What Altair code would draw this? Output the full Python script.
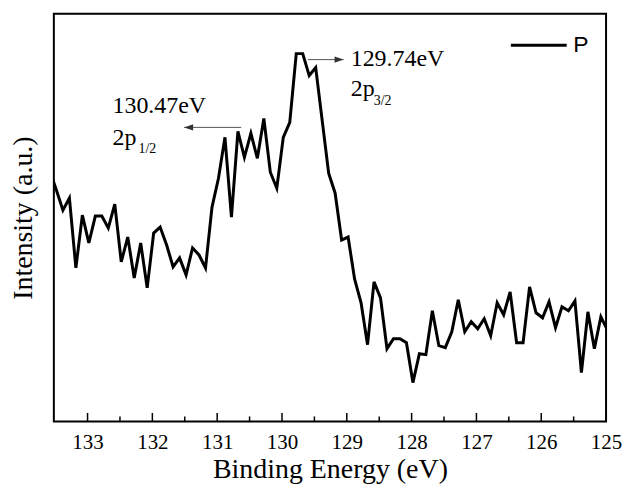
import altair as alt
import pandas as pd

# Binding energy grid (eV) and intensity (a.u.)
energy = [133.58, 133.48, 133.38, 133.28, 133.18, 133.08, 132.98, 132.88, 132.78, 132.68,
          132.58, 132.48, 132.38, 132.28, 132.18, 132.08, 131.98, 131.88, 131.78, 131.68,
          131.58, 131.48, 131.38, 131.28, 131.18, 131.08, 130.98, 130.88, 130.78, 130.68,
          130.58, 130.48, 130.38, 130.28, 130.18, 130.08, 129.98, 129.88, 129.78, 129.68,
          129.58, 129.48, 129.38, 129.28, 129.18, 129.08, 128.98, 128.88, 128.78, 128.68,
          128.58, 128.48, 128.38, 128.28, 128.18, 128.08, 127.98, 127.88, 127.78, 127.68,
          127.58, 127.48, 127.38, 127.28, 127.18, 127.08, 126.98, 126.88, 126.78, 126.68,
          126.58, 126.48, 126.38, 126.28, 126.18, 126.08, 125.98, 125.88, 125.78, 125.68,
          125.58, 125.48, 125.38, 125.28, 125.18, 125.08, 124.98]
intensity = [251, 232, 212, 224, 154, 207, 179, 206, 206, 194,
             218, 160, 185, 144, 179, 134, 189, 195, 177, 155,
             164, 147, 174, 167, 154, 215, 244, 285, 205, 291,
             265, 289, 264, 304, 250, 234, 285, 300, 369, 369,
             347, 355, 302, 249, 229, 182, 185, 143, 119, 77,
             140, 124, 73, 83, 83, 79, 39, 68, 67, 111,
             76, 74, 90, 122, 90, 100, 93, 103, 86, 119,
             107, 130, 79, 79, 135, 109, 104, 120, 94, 115,
             111, 121, 49, 110, 73, 105, 92]
series = ["P"] * len(energy)

major_ticks = [133, 132, 131, 130, 129, 128, 127, 126, 125]
minor_ticks = [132.5, 131.5, 130.5, 129.5, 128.5, 127.5, 126.5, 125.5]

X_DOMAIN = [133.52, 125]
Y_DOMAIN = [0, 409]
W, H = 554, 409
SERIF = "Liberation Serif"

df = pd.DataFrame({"E": energy, "I": intensity, "series": series})
xs = alt.Scale(domain=X_DOMAIN, nice=False, zero=False)
ys = alt.Scale(domain=Y_DOMAIN, nice=False, zero=False)

line = alt.Chart(df).mark_line(strokeWidth=3, clip=True, strokeJoin="miter").encode(
    x=alt.X("E:Q", scale=xs,
            axis=alt.Axis(title="Binding Energy (eV)", values=major_ticks, format="d",
                          ticks=False, tickSize=0, domain=False, grid=False,
                          labelFont=SERIF, labelFontSize=21, labelColor="black",
                          labelPadding=10, labelFlush=False,
                          titleFont=SERIF, titleFontSize=28, titleFontWeight="normal",
                          titleColor="black", titleBaseline="alphabetic", titleY=56)),
    y=alt.Y("I:Q", scale=ys,
            axis=alt.Axis(title="Intensity (a.u.)", labels=False, ticks=False,
                          domain=False, grid=False,
                          titleFont=SERIF, titleFontSize=28, titleFontWeight="normal",
                          titleColor="black", titleBaseline="alphabetic", titleX=-22)),
    color=alt.Color("series:N", scale=alt.Scale(range=["black"]),
                    legend=alt.Legend(title=None, orient="none", legendX=457, legendY=2,
                                      symbolType="stroke", symbolStrokeWidth=3,
                                      symbolSize=3136, labelFont="Liberation Sans",
                                      labelFontSize=23, labelColor="black", labelOffset=5)),
)

major_df = pd.DataFrame({"E": major_ticks})
minor_df = pd.DataFrame({"E": minor_ticks})
major = alt.Chart(major_df).mark_rule(color="black", strokeWidth=1.5).encode(
    x=alt.X("E:Q", scale=xs), y=alt.value(H), y2=alt.value(H - 8.5))
minor = alt.Chart(minor_df).mark_rule(color="black", strokeWidth=1.5).encode(
    x=alt.X("E:Q", scale=xs), y=alt.value(H), y2=alt.value(H - 5))

# annotations (data coordinates)
big_text = pd.DataFrame({"E": [132.615, 132.615, 128.94, 128.94],
                         "I": [309, 277, 357, 326],
                         "t": ["130.47eV", "2p", "129.74eV", "2p"]})
sub_text = pd.DataFrame({"E": [132.215, 128.585], "I": [269, 317], "t": ["1/2", "3/2"]})
big = alt.Chart(big_text).mark_text(font=SERIF, fontSize=24, align="left",
                                    baseline="alphabetic", color="black").encode(
    x=alt.X("E:Q", scale=xs), y=alt.Y("I:Q", scale=ys), text="t:N")
sub = alt.Chart(sub_text).mark_text(font=SERIF, fontSize=14, align="left",
                                    baseline="alphabetic", color="black").encode(
    x=alt.X("E:Q", scale=xs), y=alt.Y("I:Q", scale=ys), text="t:N")

arrows = pd.DataFrame({"E1": [130.63, 129.60], "E2": [131.51, 129.05], "I": [295, 363]})
arrow_lines = alt.Chart(arrows).mark_rule(color="#555555", strokeWidth=1).encode(
    x=alt.X("E1:Q", scale=xs), x2="E2:Q", y=alt.Y("I:Q", scale=ys))
head_left = alt.Chart(pd.DataFrame({"E": [131.51], "I": [295]})).mark_point(
    shape="M0,0L2,-0.7L2,0.7Z", filled=True, size=81, color="#333333", opacity=1).encode(
    x=alt.X("E:Q", scale=xs), y=alt.Y("I:Q", scale=ys))
head_right = alt.Chart(pd.DataFrame({"E": [129.05], "I": [363]})).mark_point(
    shape="M0,0L-2,-0.7L-2,0.7Z", filled=True, size=81, color="#333333", opacity=1).encode(
    x=alt.X("E:Q", scale=xs), y=alt.Y("I:Q", scale=ys))

chart = alt.layer(line, major, minor, arrow_lines, head_left, head_right, big, sub).properties(
    width=W, height=H,
    autosize=alt.AutoSizeParams(type="none"),
    padding={"left": 46, "top": 5, "right": 16, "bottom": 62},
    background="white",
).configure_view(stroke="black", strokeWidth=2)

chart.save("out.html", embed_options={"renderer": "svg", "actions": False})
